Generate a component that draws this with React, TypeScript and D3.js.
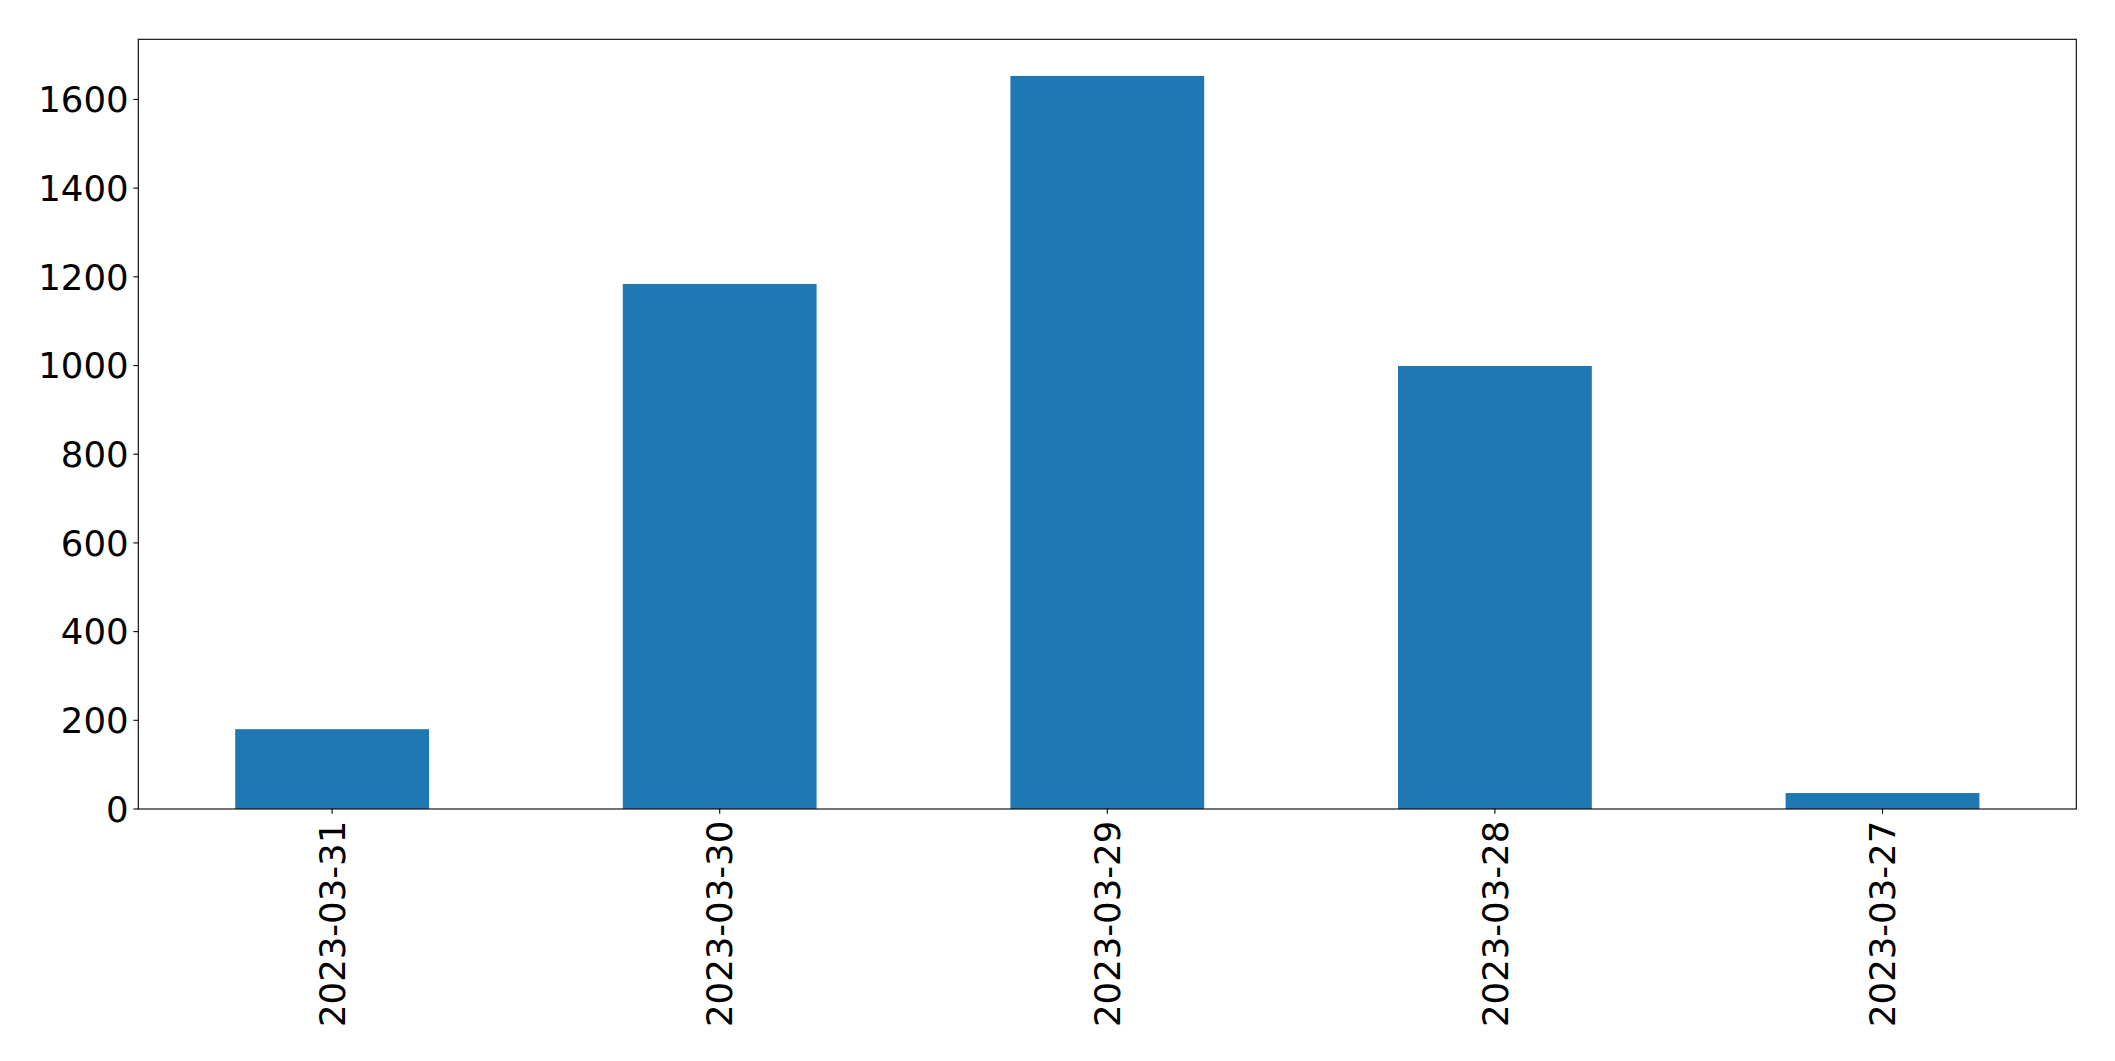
import React from "react";
import * as d3 from "d3";

const categories = ["2023-03-31", "2023-03-30", "2023-03-29", "2023-03-28", "2023-03-27"];
const values = [180, 1184, 1653, 999, 36];
const yTicks = [0, 200, 400, 600, 800, 1000, 1200, 1400, 1600];

const W = 2115;
const H = 1061;
const M = { left: 138.3, right: 2076.3, top: 39.3, bottom: 809 };
const FONT = "'DejaVu Sans', sans-serif";
const FS = 35.5;
const TICK = 4.86;
const PAD = 4.86;

export default function App() {
  const x = d3.scaleBand<string>().domain(categories).range([M.left, M.right]).paddingInner(0.5).paddingOuter(0.25);
  const yMax = d3.max(values)! * 1.05;
  const y = d3.scaleLinear().domain([0, yMax]).range([M.bottom, M.top]);
  return (
    <svg width={W} height={H} style={{ position: "absolute", left: 0, top: 0, background: "#fff" }}>
      <rect x={0} y={0} width={W} height={H} fill="#fff" />
      {values.map((v, i) => (
        <rect key={i} x={x(categories[i])} y={y(v)} width={x.bandwidth()} height={y(0) - y(v)} fill="#1f77b4" />
      ))}
      <rect x={M.left} y={M.top} width={M.right - M.left} height={M.bottom - M.top} fill="none" stroke="#000" strokeWidth={1.1} />
      {yTicks.map((t) => (
        <g key={t}>
          <line x1={M.left - TICK} x2={M.left} y1={y(t)} y2={y(t)} stroke="#000" strokeWidth={1.1} />
          <text x={M.left - TICK - PAD} y={y(t)} dy="0.36em" textAnchor="end" fontFamily={FONT} fontSize={FS} fill="#000">
            {t}
          </text>
        </g>
      ))}
      {categories.map((c) => {
        const cx = x(c)! + x.bandwidth() / 2;
        return (
          <g key={c}>
            <line x1={cx} x2={cx} y1={M.bottom} y2={M.bottom + TICK} stroke="#000" strokeWidth={1.1} />
            <text
              transform={`translate(${cx},${M.bottom + TICK + PAD + 2}) rotate(-90)`}
              dy="0.36em"
              textAnchor="end"
              fontFamily={FONT}
              fontSize={FS}
              fill="#000"
            >
              {c}
            </text>
          </g>
        );
      })}
    </svg>
  );
}
